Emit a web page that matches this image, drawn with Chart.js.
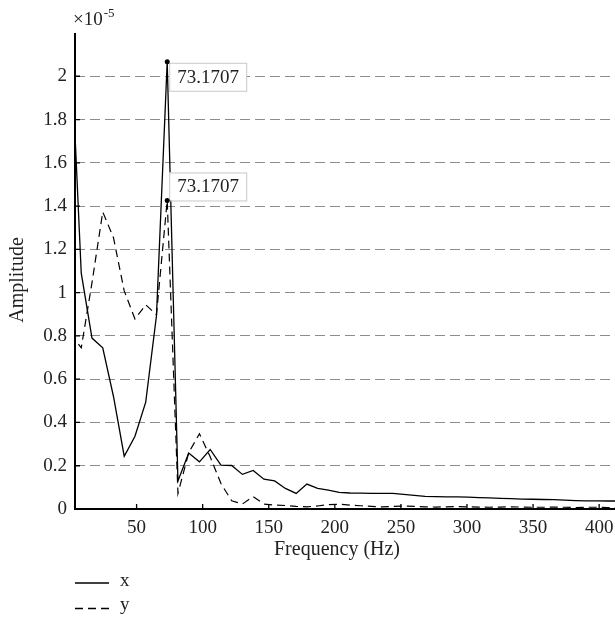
<!DOCTYPE html>
<html><head><meta charset="utf-8">
<script src="https://cdn.jsdelivr.net/npm/chart.js@4/dist/chart.umd.min.js"></script>
<style>html,body{margin:0;padding:0;background:#fff}#wrap{width:615px;height:625px;position:relative}canvas{display:block}</style>
</head><body><div id="wrap"><canvas id="c" width="615" height="625"></canvas></div>
<script>
// Frequency bins (Hz)
const frequencies = [0, 8.13, 16.26, 24.39, 32.52, 40.65, 48.78, 56.91, 65.04, 73.1707,
  81.30, 89.43, 97.56, 105.69, 113.82, 121.95, 130.08, 138.21, 146.34, 154.47,
  162.60, 170.73, 178.86, 186.99, 195.12, 203.25, 211.38, 219.51, 227.64, 235.77,
  243.90, 252.03, 260.16, 268.29, 276.42, 284.55, 292.68, 300.81, 308.94, 317.07,
  325.20, 333.33, 341.46, 349.59, 357.72, 365.85, 373.98, 382.11, 390.24, 398.37,
  406.50, 414.63];
// Amplitude of x (units of 1e-5)
const amplitudeX = [2.19, 1.09, 0.79, 0.745, 0.52, 0.244, 0.336, 0.494, 0.893, 2.067,
  0.13, 0.259, 0.218, 0.275, 0.203, 0.201, 0.16, 0.178, 0.138, 0.13,
  0.095, 0.072, 0.115, 0.095, 0.087, 0.077, 0.074, 0.073, 0.072, 0.072,
  0.072, 0.068, 0.063, 0.058, 0.057, 0.056, 0.056, 0.055, 0.053, 0.051,
  0.049, 0.048, 0.046, 0.045, 0.044, 0.043, 0.041, 0.039, 0.038, 0.038,
  0.037, 0.037];
// Amplitude of y (units of 1e-5)
const amplitudeY = [0.81, 0.745, 1.046, 1.373, 1.254, 1.008, 0.878, 0.944, 0.898, 1.426,
  0.072, 0.26, 0.348, 0.241, 0.118, 0.038, 0.023, 0.057, 0.023, 0.018,
  0.016, 0.012, 0.010, 0.014, 0.020, 0.022, 0.018, 0.015, 0.012, 0.010,
  0.012, 0.014, 0.012, 0.010, 0.009, 0.010, 0.011, 0.010, 0.009, 0.008,
  0.009, 0.010, 0.009, 0.008, 0.008, 0.009, 0.008, 0.007, 0.008, 0.008,
  0.007, 0.007];
const seriesNames = ['x', 'y'];
const xTickValues = [50, 100, 150, 200, 250, 300, 350, 400];
const yTickValues = [0, 0.2, 0.4, 0.6, 0.8, 1, 1.2, 1.4, 1.6, 1.8, 2];
const peakIndex = 9;
const peakLabel = '73.1707';
const xTitle = 'Frequency (Hz)';
const yTitle = 'Amplitude';
const expBase = '\u00d710';
const expPower = '-5';

const FONT = '"Liberation Serif", "Times New Roman", serif';

const toPoints = arr => frequencies.map((f, i) => ({x: f, y: arr[i]}));

const overlay = {
  id: 'overlay',
  afterDatasetsDraw(chart) {
    const ctx = chart.ctx;
    const a = chart.chartArea;
    const xs = chart.scales.x, ys = chart.scales.y;
    ctx.save();
    // axis lines
    ctx.strokeStyle = '#000';
    ctx.lineWidth = 2;
    ctx.setLineDash([]);
    ctx.beginPath();
    ctx.moveTo(a.left, a.top);
    ctx.lineTo(a.left, a.bottom);
    ctx.lineTo(a.right, a.bottom);
    ctx.stroke();
    // inward tick marks
    ctx.lineWidth = 1.3;
    ctx.beginPath();
    xTickValues.forEach(v => {
      const px = xs.getPixelForValue(v);
      ctx.moveTo(px, a.bottom);
      ctx.lineTo(px, a.bottom - 5);
    });
    yTickValues.forEach(v => {
      const py = ys.getPixelForValue(v);
      ctx.moveTo(a.left, py);
      ctx.lineTo(a.left + 5, py);
    });
    ctx.stroke();

    // data tips
    const tips = [
      {v: amplitudeX[peakIndex], above: false},
      {v: amplitudeY[peakIndex], above: true}
    ];
    ctx.font = '19px ' + FONT;
    tips.forEach(t => {
      const px = xs.getPixelForValue(frequencies[peakIndex]);
      const py = ys.getPixelForValue(t.v);
      const w = 77, h = 28;
      const bx = px + 2;
      const by = t.above ? py - h : py + 1;
      ctx.fillStyle = '#fff';
      ctx.fillRect(bx, by, w, h);
      ctx.strokeStyle = '#c8c8c8';
      ctx.lineWidth = 1;
      ctx.strokeRect(bx + 0.5, by + 0.5, w, h);
      ctx.fillStyle = '#222';
      ctx.textAlign = 'center';
      ctx.textBaseline = 'middle';
      ctx.fillText(peakLabel, bx + w / 2 + 0.5, by + h / 2 + 1);
      ctx.beginPath();
      ctx.arc(px, py, 2.5, 0, Math.PI * 2);
      ctx.fillStyle = '#000';
      ctx.fill();
    });

    // titles
    ctx.fillStyle = '#222';
    ctx.font = '20px ' + FONT;
    ctx.textAlign = 'center';
    ctx.textBaseline = 'middle';
    ctx.fillText(xTitle, 337, 550);
    ctx.save();
    ctx.translate(18, 280);
    ctx.rotate(-Math.PI / 2);
    ctx.fillText(yTitle, 0, 0);
    ctx.restore();

    // exponent
    ctx.textAlign = 'left';
    ctx.textBaseline = 'alphabetic';
    ctx.font = '19px ' + FONT;
    ctx.fillText(expBase, 73, 25);
    const bw = ctx.measureText(expBase).width;
    ctx.font = '13px ' + FONT;
    ctx.fillText(expPower, 73 + bw + 1, 17);

    // legend
    ctx.strokeStyle = '#000';
    ctx.lineWidth = 1.3;
    ctx.beginPath();
    ctx.moveTo(75, 583); ctx.lineTo(109, 583);
    ctx.stroke();
    ctx.setLineDash([8, 5]);
    ctx.beginPath();
    ctx.moveTo(75, 608.5); ctx.lineTo(109, 608.5);
    ctx.stroke();
    ctx.setLineDash([]);
    ctx.font = '19px ' + FONT;
    ctx.fillStyle = '#222';
    ctx.textBaseline = 'middle';
    ctx.fillText(seriesNames[0], 120, 581);
    ctx.fillText(seriesNames[1], 120, 605);
    ctx.restore();
  }
};

new Chart(document.getElementById('c'), {
  type: 'line',
  data: {
    datasets: [
      {label: seriesNames[0], data: toPoints(amplitudeX), borderColor: '#000', borderWidth: 1.3,
       pointRadius: 0, tension: 0, fill: false},
      {label: seriesNames[1], data: toPoints(amplitudeY), borderColor: '#000', borderWidth: 1.2,
       borderDash: [8, 5], pointRadius: 0, tension: 0, fill: false}
    ]
  },
  options: {
    responsive: false,
    animation: false,
    devicePixelRatio: 1,
    layout: {padding: {top: 33, right: 0, left: 0, bottom: 0}},
    plugins: {legend: {display: false}, tooltip: {enabled: false}},
    scales: {
      x: {
        type: 'linear', min: 3.4, max: 412,
        afterBuildTicks: s => { s.ticks = xTickValues.map(v => ({value: v})); },
        ticks: {font: {family: FONT, size: 19}, color: '#222', padding: 8, maxRotation: 0, autoSkip: false},
        grid: {display: true, color: 'rgba(0,0,0,0)', drawTicks: false},
        border: {display: false},
        afterFit: s => { s.height = 116; s.paddingLeft = 0; s.paddingRight = 0; }
      },
      y: {
        type: 'linear', min: 0, max: 2.2,
        afterBuildTicks: s => { s.ticks = yTickValues.map(v => ({value: v})); },
        ticks: {font: {family: FONT, size: 19}, color: '#222', padding: 8,
                callback: v => String(Math.round(v * 10) / 10)},
        grid: {display: true, color: '#8c8c8c', lineWidth: 1, drawTicks: false},
        border: {display: false, dash: [10, 5]},
        afterFit: s => { s.width = 75; s.paddingTop = 0; s.paddingBottom = 0; }
      }
    }
  },
  plugins: [overlay]
});
</script></body></html>
